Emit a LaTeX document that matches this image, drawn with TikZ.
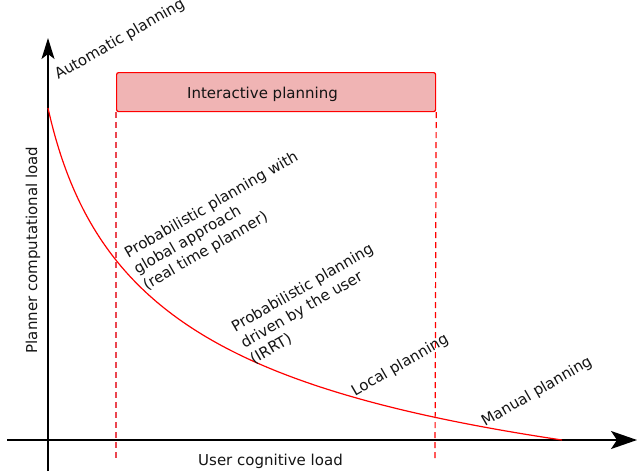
\documentclass[tikz,border=0pt]{standalone}
\usepackage{fontspec}
\setmainfont{DejaVu Sans}
\usetikzlibrary{arrows.meta}
\definecolor{boxfill}{RGB}{240,180,180}
\definecolor{dashl}{RGB}{235,70,80}
\definecolor{txt}{RGB}{20,20,20}
\begin{document}
\begin{tikzpicture}[x=1pt,y=-1pt,
  lbl/.style={inner sep=0pt, text=txt, font=\fontsize{15}{18.5}\selectfont},
  rlbl/.style={lbl, rotate=30, align=left},
  axis/.style={line width=1.3pt, black},
  guide/.style={dash pattern=on 6pt off 4pt}]
\useasboundingbox (0,0) rectangle (638,472);
% axes
\coordinate (yb) at (48,471);
\coordinate (yt) at (48,38);
\coordinate (xl) at (7,440);
\coordinate (xr) at (637,440);
\draw[axis,-{Stealth[length=21pt,width=13pt,inset=5pt]}] (yb) -- (yt);
\draw[axis,-{Stealth[length=26pt,width=18pt,inset=6pt]}] (xl) -- (xr);
% interactive box
\node (ibox) [draw=red, fill=boxfill, line width=1.2pt, rounded corners=2pt,
  minimum width=319pt, minimum height=39pt, inner sep=0pt, anchor=north west] at (116,72) {};
\node (itext) [lbl, anchor=base] at (262.5,98.3) {Interactive planning};
\coordinate (dl) at (116,458);
\coordinate (dr) at (435,458);
\draw[guide, dashl, line width=1.8pt] (ibox.south west) -- (dl);
\draw[guide, red, line width=1.2pt] (ibox.south east) -- (dr);
% curve
\coordinate (c0) at (48,108);
\coordinate (c3) at (562,440);
\draw[red, line width=1.2pt] (c0) .. controls (91.4,303.2) and (215.9,388.2) .. (c3);
% labels
\node (auto) [lbl, rotate=30, anchor=base west] at (58.3,80) {Automatic planning};
\node (glob) [rlbl, anchor=north west] at (122.4,248.3) {Probabilistic planning with\\global approach\\(real time planner)};
\node (irrt) [rlbl, anchor=north west] at (229.4,322.3) {Probabilistic planning\\driven by the user\\(IRRT)};
\node (local) [lbl, rotate=30, anchor=base west] at (355,396.7) {Local planning};
\node (manual) [lbl, rotate=30, anchor=base west] at (485,426.7) {Manual planning};
\node (ylab) [lbl, rotate=90, anchor=base] at (37,250) {Planner computational load};
\node (xlab) [lbl, anchor=base] at (270.5,465) {User cognitive load};
\end{tikzpicture}
\end{document}
